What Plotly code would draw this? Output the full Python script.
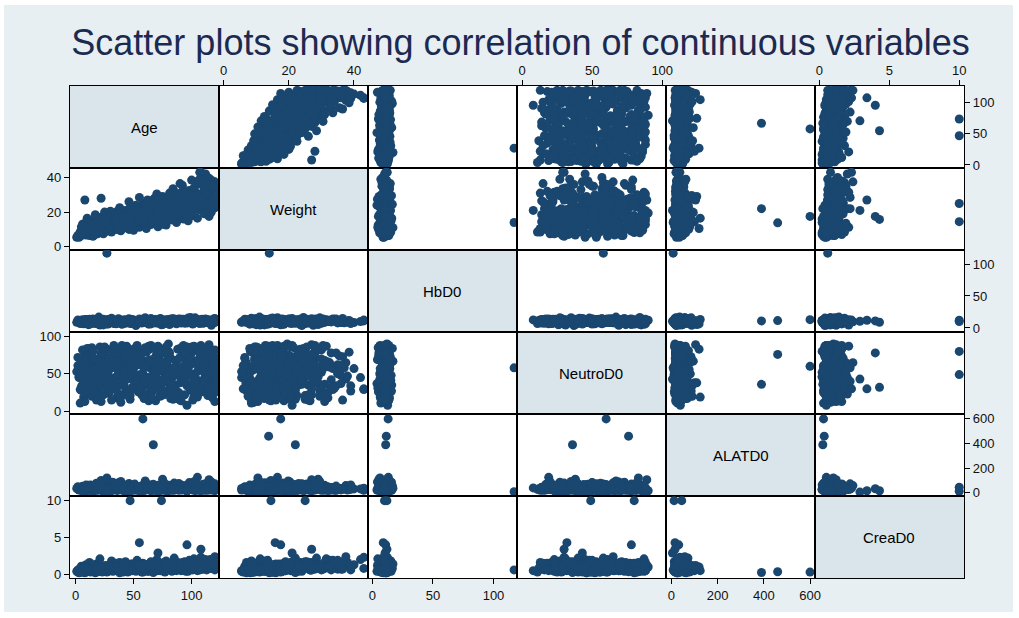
import plotly.graph_objects as go
from plotly.subplots import make_subplots

# ---- study variables (one entry per patient) ----
age = [
    3, 4, 5, 5, 6, 7, 7, 8, 9, 9,
    10, 11, 11, 12, 13, 14, 14, 15, 16, 17,
    18, 18, 19, 20, 21, 22, 23, 24, 24, 25,
    26, 27, 28, 29, 30, 31, 32, 33, 34, 35,
    36, 36, 37, 38, 39, 40, 41, 42, 43, 44,
    45, 46, 47, 48, 48, 49, 50, 51, 52, 53,
    54, 55, 56, 57, 58, 59, 60, 60, 61, 62,
    63, 64, 65, 66, 67, 68, 69, 70, 71, 72,
    72, 73, 74, 75, 76, 77, 78, 79, 80, 81,
    82, 83, 84, 84, 85, 86, 87, 88, 89, 90,
    91, 92, 93, 94, 95, 96, 96, 97, 98, 99,
    100, 101, 102, 103, 104, 105, 106, 107, 108, 108,
    109, 110, 111, 112, 113, 114, 115, 116, 117, 118,
    119, 120, 120, 120, 120, 120, 120, 119, 118, 117,
    6, 8, 10, 12, 15, 17, 20, 22, 25, 28,
    30, 33, 35, 38, 42, 46, 50, 55, 58, 62,
    66, 70, 74, 78, 82, 86, 90, 94, 98, 102,
    106, 110, 114, 118, 120, 4, 13, 19, 27, 40,
    52, 64, 76, 88, 100, 112, 120, 116, 96, 70,
    2, 5, 8, 11, 14, 16, 19, 21, 23, 26,
    29, 31, 34, 37, 39, 41, 44, 47, 49, 51,
    53, 56, 59, 61, 63, 65, 68, 71, 73, 75,
    77, 80, 83, 85, 87, 89, 92, 95, 97, 99,
    101, 103, 105, 107, 109, 111, 113, 115, 117, 119,
    120, 120, 118, 115, 110, 104, 93, 81, 69, 57,
    45, 33, 21, 9, 3, 7, 12, 18, 24, 30,
    36, 42, 48, 54, 60, 66, 72, 78, 84, 90,
    96, 102, 108, 114, 120, 1, 6, 15, 25, 35,
    15, 31, 43, 57, 67, 79, 91, 103, 113, 119,
    9, 20, 37, 50, 63, 74, 86, 99, 111, 120,
    4, 10, 16, 22, 28, 34, 40, 46, 52, 58,
    64, 70, 76, 82, 88, 94, 100, 106, 112, 118,
    120, 117, 111, 105, 99, 93, 87, 81, 75, 69,
    63, 57, 51, 45, 39, 33, 27, 21, 15, 9,
    2, 7, 13, 19, 25, 31, 37, 43, 49, 55,
    61, 67, 73, 79, 85, 91, 97, 103, 109, 115,
    120, 114, 108, 102, 96, 90, 84, 78, 72, 66,
    60, 54, 48, 42, 36, 30, 24, 18, 12, 6,
    11, 23, 35, 47, 59, 71, 83, 95, 107, 119,
    5, 17, 29, 41, 53, 65, 77, 89, 101, 113,
    27, 58, None, 67, 47, 74, 55, 96, 108, 71, 85, 8, 22, 107, 118,
]
weight = [
    5.5, 7.2, 9.5, 6.5, 11.0, 7.5, 12.5, 8.2, 10.5, 6.8,
    8.5, 13.5, 10.0, 7.0, 15.0, 10.5, 9.0, 12.0, 6.8, 14.0,
    10.2, 16.0, 8.0, 12.8, 11.2, 17.0, 9.0, 13.8, 7.5, 15.5,
    12.2, 9.0, 18.0, 11.0, 14.8, 8.5, 16.2, 12.4, 19.0, 10.0,
    13.5, 20.5, 10.8, 16.0, 9.2, 18.5, 14.5, 11.0, 21.0, 13.8,
    15.2, 10.0, 22.5, 17.0, 12.0, 19.0, 9.5, 16.2, 24.0, 13.5,
    18.0, 11.2, 21.0, 14.0, 25.0, 12.5, 19.8, 16.5, 10.5, 23.0,
    15.2, 26.5, 12.8, 20.0, 17.0, 28.0, 14.5, 22.0, 11.5, 18.5,
    24.5, 13.5, 19.0, 29.0, 16.0, 22.0, 12.5, 26.5, 19.5, 31.0,
    21.0, 15.5, 25.0, 33.5, 18.0, 27.5, 14.0, 23.5, 30.0, 17.5,
    20.5, 35.5, 16.0, 27.0, 24.0, 19.0, 29.5, 15.0, 32.5, 22.0,
    26.5, 18.0, 34.0, 23.0, 37.5, 16.5, 29.0, 21.5, 36.0, 43.0,
    25.0, 30.0, 19.0, 34.5, 22.5, 40.0, 17.5, 31.5, 27.5, 38.0,
    23.0, 26.0, 30.0, 33.5, 22.5, 36.5, 28.5, 35.0, 32.0, 20.0,
    13.0, 10.5, 16.5, 8.0, 12.5, 18.5, 11.0, 14.5, 20.0, 13.0,
    20.5, 15.0, 12.0, 22.5, 16.5, 26.0, 13.5, 28.5, 17.5, 27.0,
    23.5, 30.5, 17.5, 24.5, 28.5, 20.0, 36.5, 25.0, 20.5, 31.5,
    21.5, 37.0, 26.5, 24.5, 37.5, 8.5, 11.5, 7.5, 10.5, 17.5,
    19.0, 22.5, 26.0, 30.0, 38.5, 42.0, 34.0, 39.0, 21.0, 16.0,
    6.0, 11.5, 9.0, 14.5, 7.5, 12.0, 15.5, 9.5, 13.0, 16.5,
    11.5, 18.0, 13.5, 9.8, 20.0, 15.0, 11.5, 22.0, 14.0, 18.0,
    12.0, 21.5, 16.0, 24.5, 13.5, 19.0, 15.0, 27.0, 21.0, 13.0,
    18.5, 28.0, 16.5, 24.0, 31.0, 20.0, 26.0, 18.0, 30.0, 24.5,
    20.0, 32.0, 25.5, 39.0, 28.0, 21.0, 35.0, 27.0, 33.0, 30.5,
    25.0, 32.0, 36.0, 29.5, 24.0, 31.0, 33.0, 23.5, 19.5, 14.5,
    18.5, 16.0, 13.0, 12.0, 7.0, 10.0, 6.5, 11.0, 12.5, 14.0,
    16.5, 12.5, 19.5, 15.5, 23.5, 16.0, 22.0, 18.0, 27.0, 22.5,
    27.0, 24.0, 30.5, 25.5, 28.0, 5.5, 7.8, 9.5, 11.0, 17.0,
    6.0, 13.0, 17.5, 20.5, 23.0, 27.5, 21.5, 29.5, 36.0, 26.0,
    14.0, 9.5, 14.5, 13.0, 19.5, 17.0, 19.5, 22.5, 29.0, 31.0,
    7.0, 9.5, 13.0, 8.5, 14.0, 12.0, 16.5, 13.0, 17.5, 20.5,
    16.0, 19.5, 22.5, 18.0, 24.0, 21.0, 25.5, 30.0, 24.0, 27.5,
    29.0, 25.0, 33.0, 26.0, 22.5, 28.0, 20.0, 23.0, 17.5, 21.0,
    18.5, 14.5, 16.0, 12.5, 14.0, 13.0, 10.5, 11.5, 9.5, 8.0,
    6.5, 8.5, 11.5, 9.0, 10.0, 14.0, 12.0, 15.5, 13.0, 16.0,
    20.0, 18.0, 15.5, 21.5, 19.0, 26.5, 23.0, 27.0, 29.0, 32.5,
    27.0, 30.0, 23.5, 29.5, 26.0, 23.5, 19.0, 20.5, 23.0, 18.0,
    14.5, 16.5, 13.5, 17.0, 12.0, 11.5, 12.0, 10.0, 11.0, 9.0,
    9.5, 10.0, 15.0, 18.0, 15.0, 18.5, 20.0, 27.5, 25.0, 34.5,
    8.0, 7.5, 12.0, 13.5, 21.0, 14.5, 23.0, 19.5, 26.0, 30.0,
    14.0, 17.5, 13.8, 22.0, 14.5, 25.0, 15.8, 17.5, 27.0, 21.0, 22.0, 27.0, 28.0, 43.0, 35.0,
]
hb = [
    9.5, 10.2, 7.8, 11.5, 8.4, 12.1, 6.5, 10.8, 9.1, 13.2,
    8.0, 11.0, 5.2, 9.8, 12.6, 7.2, 10.5, 14.0, 8.8, 11.8,
    6.8, 10.0, 12.9, 9.3, 4.5, 11.2, 8.2, 13.5, 10.6, 7.6,
    9.9, 12.3, 6.1, 10.9, 8.6, 15.2, 11.4, 7.0, 9.6, 12.0,
    10.3, 8.1, 13.8, 9.0, 11.7, 5.8, 10.1, 12.8, 7.4, 9.4,
    11.1, 14.5, 8.5, 10.7, 6.9, 12.4, 9.7, 11.9, 3.8, 10.4,
    8.9, 12.2, 10.6, 7.7, 13.1, 9.2, 11.3, 16.0, 8.3, 10.0,
    12.7, 9.5, 6.4, 11.6, 10.2, 8.0, 13.4, 9.8, 11.0, 7.1,
    10.8, 12.5, 9.0, 5.5, 11.4, 10.3, 13.0, 8.7, 12.1, 9.6,
    7.9, 11.2, 10.5, 14.2, 9.1, 12.8, 6.6, 10.9, 11.7, 8.4,
    13.6, 9.3, 10.7, 7.5, 12.0, 11.1, 8.8, 15.5, 10.0, 9.7,
    11.9, 6.2, 12.6, 10.4, 9.0, 13.2, 8.1, 11.5, 10.8, 12.3,
    9.4, 7.3, 11.8, 13.9, 10.1, 8.6, 12.4, 9.9, 4.2, 11.0,
    10.6, 12.9, 8.9, 11.3, 9.8, 14.8, 10.5, 7.9, 12.2, 9.2,
    11.6, 8.3, 10.7, 6.0, 12.5, 9.5, 17.0, 10.2, 8.7, 13.0,
    9.9, 11.4, 7.6, 12.7, 10.3, 8.2, 11.9, 14.0, 9.0, 10.8,
    12.1, 9.6, 5.0, 11.2, 10.0, 13.6, 8.5, 11.7, 9.3, 12.9,
    10.4, 8.0, 12.3, 11.0, 9.7, 7.0, 13.3, 10.9, 6.3, 11.5,
    9.2, 12.0, 10.6, 8.6, 11.8, 10.1, 13.7, 9.4, 12.6, 7.8,
    10.1, 8.7, 12.4, 9.6, 11.3, 7.4, 13.1, 10.5, 6.7, 11.8,
    9.0, 12.2, 10.8, 14.6, 8.3, 11.5, 9.9, 7.2, 12.9, 10.3,
    11.7, 8.9, 13.5, 10.0, 6.0, 12.1, 9.4, 11.0, 15.0, 8.1,
    10.6, 12.8, 7.7, 11.3, 9.2, 13.9, 10.4, 8.5, 12.0, 16.5,
    9.8, 11.6, 13.0, 7.0, 10.9, 12.5, 8.8, 11.2, 9.5, 14.0,
    12.3, 10.2, 8.4, 11.9, 13.4, 9.1, 10.7, 5.4, 12.6, 11.0,
    8.6, 10.0, 12.7, 9.3, 11.4, 7.9, 13.6, 10.6, 4.8, 12.0,
    11.1, 9.7, 13.2, 8.2, 10.5, 12.4, 9.0, 11.8, 14.4, 10.2,
    7.6, 12.0, 10.3, 9.4, 11.6, 8.8, 13.0, 10.9, 12.2, 6.6,
    10.7, 13.3, 9.1, 11.5, 8.0, 12.6, 10.1, 15.8, 9.8, 11.2,
    12.9, 9.5, 11.0, 7.3, 10.8, 13.8, 8.9, 11.4, 10.0, 12.5,
    10.4, 8.8, 11.9, 9.6, 12.7, 7.5, 10.9, 13.3, 9.1, 11.4,
    8.4, 12.1, 10.2, 14.1, 9.5, 11.7, 7.8, 10.6, 12.8, 9.9,
    11.3, 6.9, 12.5, 10.0, 8.6, 13.6, 10.8, 9.3, 11.6, 12.2,
    9.7, 11.0, 7.1, 12.9, 10.5, 8.3, 11.8, 14.3, 9.0, 10.1,
    12.4, 9.4, 10.7, 6.5, 11.5, 13.1, 8.9, 10.3, 12.0, 9.8,
    10.9, 12.6, 8.2, 11.1, 9.6, 7.6, 12.3, 10.6, 13.8, 11.0,
    9.1, 10.8, 12.0, 8.7, 11.4, 13.5, 9.9, 7.4, 10.4, 12.7,
    11.7, 9.2, 13.0, 10.1, 8.0, 12.2, 10.7, 11.6, 6.2, 9.5,
    12.8, 10.5, 9.0, 11.9, 13.2, 8.5, 10.0, 12.4, 11.1, 9.7,
    8.9, 11.3, 12.6, 9.8, 10.6, 14.7, 11.5, 9.4, 10.2, 13.0,
    117.0, 13.0, 11.5, 11.0, 10.0, 12.0, 9.0, 11.0, 12.0, 10.5, 11.5, 10.0, 12.0, 11.0, 10.0,
]
neutro = [
    45, 62, 28, 71, 35, 54, 19, 80, 40, 66,
    23, 58, 74, 33, 49, 85, 27, 61, 38, 52,
    70, 15, 44, 63, 31, 78, 55, 22, 47, 68,
    36, 82, 50, 25, 59, 41, 73, 30, 64, 18,
    56, 34, 77, 46, 12, 69, 39, 60, 26, 87,
    43, 65, 21, 53, 75, 32, 57, 84, 37, 48,
    62, 29, 72, 40, 51, 17, 67, 35, 79, 45,
    24, 58, 88, 33, 47, 70, 14, 61, 42, 76,
    54, 20, 66, 38, 81, 49, 27, 63, 90, 36,
    71, 44, 16, 57, 30, 68, 52, 83, 25, 46,
    39, 74, 60, 22, 55, 86, 34, 48, 65, 28,
    50, 80, 31, 67, 43, 19, 59, 72, 37, 30,
    64, 26, 53, 78, 41, 57, 85, 23, 69, 47,
    35, 61, 82, 29, 56, 73, 40, 51, 18, 66,
    42, 13, 60, 84, 30, 52, 67, 38, 75, 24,
    57, 88, 33, 46, 70, 21, 62, 44, 80, 36,
    48, 63, 26, 77, 39, 55, 15, 71, 50, 87,
    32, 58, 74, 43, 65, 11, 54, 28, 83, 61,
    37, 69, 22, 52, 79, 45, 60, 34, 8, 76,
    61, 33, 78, 47, 20, 69, 54, 86, 39, 58,
    27, 72, 45, 63, 35, 81, 52, 16, 67, 41,
    75, 49, 24, 60, 87, 36, 56, 71, 28, 65,
    43, 80, 32, 55, 68, 19, 74, 46, 59, 84,
    38, 66, 53, 27, 77, 44, 62, 89, 31, 57,
    70, 25, 48, 83, 36, 64, 42, 78, 53, 22,
    51, 79, 37, 63, 46, 72, 29, 56, 85, 40,
    67, 34, 60, 48, 82, 26, 71, 43, 57, 38,
    76, 45, 88, 21, 62, 53, 35, 70, 44, 81,
    30, 58, 74, 42, 66, 50, 85, 27, 61, 47,
    55, 68, 23, 79, 40, 62, 33, 74, 52, 13,
    29, 84, 56, 13, 67, 44, 88, 20, 72, 38,
    83, 31, 58, 17, 69, 41, 86, 24, 53, 75,
    46, 21, 78, 35, 62, 88, 17, 52, 28, 73,
    14, 78, 38, 84, 19, 66, 32, 50, 80, 25,
    72, 39, 24, 57, 86, 15, 50, 74, 30, 63,
    40, 85, 22, 68, 50, 14, 77, 36, 83, 59,
    63, 32, 77, 20, 47, 72, 36, 86, 55, 18,
    85, 26, 69, 52, 79, 33, 61, 17, 43, 82,
    36, 65, 29, 72, 44, 87, 23, 53, 79, 34,
    51, 23, 69, 35, 88, 43, 81, 58, 15, 70,
    58, 60, 76, 36, 49, 80, 32, 78, 30, 43, 58, 55, 40, 29, 50,
]
alat = [
    22, 35, 18, 45, 28, 12, 40, 30, 55, 25,
    15, 33, 48, 20, 62, 27, 38, 14, 42, 24,
    31, 19, 52, 26, 37, 70, 21, 44, 16, 34,
    29, 58, 23, 41, 11, 36, 85, 25, 47, 32,
    18, 39, 27, 64, 30, 21, 50, 35, 13, 43,
    26, 75, 32, 19, 46, 28, 38, 57, 22, 34,
    41, 17, 29, 53, 24, 36, 95, 20, 31, 48,
    27, 40, 15, 33, 68, 22, 44, 30, 56, 19,
    35, 25, 49, 110, 28, 37, 21, 42, 16, 60,
    30, 45, 23, 38, 78, 26, 34, 52, 19, 40,
    24, 36, 58, 29, 47, 14, 33, 25, 43, 66,
    32, 21, 39, 27, 54, 125, 30, 44, 23, 37,
    48, 26, 35, 19, 62, 31, 40, 28, 88, 22,
    36, 51, 25, 42, 17, 33, 72, 29, 46, 24,
    38, 20, 57, 31, 45, 23, 36, 100, 27, 41,
    19, 34, 26, 50, 30, 65, 22, 39, 28, 44,
    33, 24, 47, 18, 37, 55, 29, 41, 82, 26,
    40, 30, 21, 35, 58, 27, 46, 32, 120, 23,
    28, 42, 36, 25, 53, 31, 20, 63, 39, 34,
    27, 44, 18, 60, 33, 22, 51, 38, 15, 70,
    36, 25, 48, 30, 92, 19, 41, 28, 57, 24,
    45, 31, 20, 66, 39, 26, 53, 17, 35, 80,
    29, 50, 23, 42, 34, 75, 21, 46, 31, 58,
    40, 18, 62, 27, 37, 52, 24, 105, 33, 44,
    23, 47, 35, 29, 68, 20, 43, 32, 55, 26,
    38, 21, 59, 34, 26, 45, 30, 77, 19, 41,
    32, 54, 24, 43, 28, 63, 36, 22, 49, 30,
    46, 27, 39, 71, 25, 35, 52, 20, 42, 33,
    25, 40, 30, 57, 21, 48, 34, 86, 27, 50,
    34, 23, 45, 31, 64, 26, 39, 28, 55, 37,
    31, 24, 50, 37, 20, 66, 28, 42, 35, 18,
    43, 29, 61, 22, 36, 48, 27, 39, 73, 25,
    35, 52, 21, 44, 30, 26, 58, 33, 19, 47,
    24, 38, 70, 29, 42, 33, 18, 55, 27, 62,
    49, 26, 34, 21, 45, 30, 80, 23, 37, 28,
    32, 57, 25, 40, 19, 35, 46, 29, 63, 22,
    41, 27, 36, 90, 24, 50, 31, 38, 26, 44,
    29, 45, 22, 34, 56, 25, 40, 68, 30, 20,
    37, 20, 48, 27, 33, 61, 23, 42, 30, 54,
    26, 39, 31, 47, 22, 36, 74, 28, 45, 33,
    8, 600, 460, 390, 12, 45, 16, 32, 16, 5, 30, 25, 35, 20, 30,
]
crea = [
    0.5, 0.8, 0.3, 1.1, 0.6, 0.4, 0.9, 0.2, 1.3, 0.7,
    0.4, 1.0, 0.6, 1.6, 0.3, 0.8, 0.5, 1.2, 0.9, 0.2,
    0.7, 1.4, 0.4, 0.6, 2.1, 0.9, 0.3, 1.1, 0.5, 0.8,
    1.2, 0.3, 0.7, 1.0, 0.5, 1.8, 0.4, 0.9, 0.6, 1.5,
    0.6, 0.9, 1.3, 0.2, 0.8, 0.5, 1.1, 0.4, 1.7, 0.7,
    0.3, 1.0, 0.6, 1.4, 0.9, 0.5, 1.2, 0.7, 0.4, 1.9,
    0.8, 0.5, 1.1, 0.3, 1.5, 0.7, 0.9, 1.3, 0.6, 0.4,
    1.0, 0.6, 1.6, 0.8, 0.4, 1.2, 0.7, 2.0, 0.5, 0.9,
    0.7, 1.3, 0.5, 0.9, 1.1, 0.3, 1.8, 0.6, 1.0, 0.8,
    1.4, 0.4, 0.8, 1.2, 0.6, 1.0, 0.5, 1.6, 0.9, 0.7,
    0.5, 1.1, 0.9, 0.6, 1.5, 0.8, 1.3, 0.4, 1.9, 1.0,
    0.9, 0.6, 1.2, 0.8, 1.7, 0.5, 1.0, 1.4, 0.7, 2.3,
    1.1, 0.7, 1.5, 0.9, 0.6, 1.3, 0.8, 2.0, 1.2, 1.6,
    0.8, 1.4, 0.6, 1.9, 1.0, 0.7, 2.2, 1.1, 0.9, 1.5,
    0.6, 0.9, 1.2, 0.4, 1.0, 0.7, 1.4, 0.5, 0.8, 1.1,
    1.3, 0.5, 0.9, 1.6, 0.6, 1.1, 0.8, 1.4, 0.7, 1.0,
    0.9, 1.2, 0.6, 1.5, 0.8, 1.3, 1.0, 1.7, 0.7, 2.1,
    1.2, 1.8, 0.8, 1.4, 2.4, 0.3, 0.9, 0.6, 1.0, 1.3,
    0.7, 1.1, 1.6, 0.9, 1.3, 2.0, 1.7, 1.2, 0.5, 0.8,
    0.3, 0.7, 1.0, 0.5, 1.3, 0.8, 0.4, 1.1, 0.6, 0.9,
    0.8, 1.2, 0.5, 1.5, 0.7, 0.3, 1.0, 0.6, 1.4, 0.9,
    1.1, 0.6, 0.9, 1.3, 0.4, 1.7, 0.8, 1.0, 0.5, 1.2,
    0.7, 1.5, 1.0, 0.6, 1.2, 0.9, 1.6, 0.4, 1.1, 0.8,
    1.3, 0.9, 1.7, 0.6, 1.0, 1.4, 0.7, 1.2, 1.8, 1.0,
    1.6, 1.1, 0.8, 1.3, 0.9, 1.5, 0.6, 1.2, 0.7, 1.0,
    0.5, 0.9, 0.4, 0.7, 0.2, 0.6, 1.0, 0.3, 0.8, 1.2,
    0.9, 0.5, 1.1, 0.7, 1.3, 0.8, 1.0, 1.4, 0.6, 1.2,
    1.0, 1.3, 0.7, 1.6, 1.1, 0.4, 0.8, 0.5, 0.9, 0.6,
    0.6, 1.0, 0.8, 1.2, 0.9, 1.4, 0.7, 1.1, 1.5, 1.3,
    0.4, 0.8, 1.1, 0.6, 1.0, 0.9, 1.3, 0.7, 1.2, 1.6,
    0.4, 0.9, 0.6, 1.2, 0.8, 1.0, 0.5, 1.3, 0.7, 1.1,
    0.9, 1.2, 0.7, 1.4, 1.0, 0.6, 1.5, 0.8, 1.1, 1.3,
    1.2, 0.8, 1.4, 0.9, 1.1, 0.7, 1.3, 1.0, 0.6, 0.9,
    1.1, 0.6, 0.9, 0.4, 1.2, 0.7, 1.0, 0.5, 0.8, 0.3,
    0.6, 0.4, 0.8, 1.0, 0.5, 1.1, 0.7, 1.3, 0.9, 0.6,
    1.0, 0.8, 1.3, 0.6, 1.1, 1.4, 0.9, 1.6, 1.0, 1.2,
    1.4, 1.0, 1.2, 0.8, 1.5, 0.9, 1.1, 0.7, 1.3, 0.8,
    0.7, 1.1, 0.5, 0.9, 0.6, 1.0, 0.4, 0.8, 0.6, 0.5,
    0.8, 0.5, 1.0, 0.7, 1.2, 0.9, 1.4, 1.1, 1.3, 1.7,
    0.3, 0.6, 0.9, 1.2, 0.7, 1.0, 1.3, 0.8, 1.5, 1.1,
    0.6, 0.3, 0.35, 0.25, 10.0, 10.0, 4.3, 4.0, 3.4, 2.9, 2.2, 0.8, 0.9, 0.8, 1.9,
]

var_names = ["Age", "Weight", "HbD0", "NeutroD0", "ALATD0", "CreaD0"]
tick_values = [
    [0, 50, 100],
    [0, 20, 40],
    [0, 50, 100],
    [0, 50, 100],
    [0, 200, 400, 600],
    [0, 5, 10],
]

# ---- axis scaling per variable (horizontal / vertical use) ----
x_ranges = [[-4.8, 123.6], [-1.44, 44.3], [-3.6, 119.4],
            [-3.6, 102.7], [-23, 621.5], [-0.31, 10.34]]
y_ranges = [[-4.9, 127], [-1.9, 45.5], [-6.3, 121.9],
            [-3.6, 105.9], [-26.8, 640], [-0.5, 10.63]]

columns = [age, weight, hb, neutro, alat, crea]
n = len(var_names)
assert all(len(col) == len(age) for col in columns)

MARKER = "rgb(26,71,111)"
OUTER_BG = "#e8eff2"
DIAG_BG = "#d9e5eb"
FONT = "Liberation Sans, Arial, sans-serif"

fig = make_subplots(rows=n, cols=n, horizontal_spacing=0, vertical_spacing=0)

for i in range(n):          # row -> y variable
    for j in range(n):      # column -> x variable
        r, c = i + 1, j + 1
        if i != j:
            fig.add_trace(go.Scatter(
                x=columns[j], y=columns[i], mode="markers",
                marker=dict(color=MARKER, size=9, line=dict(width=0)),
                hoverinfo="skip", showlegend=False,
            ), row=r, col=c)
        else:
            # invisible placeholder keeps the diagonal axes alive
            fig.add_trace(go.Scatter(x=[None], y=[None], mode="markers",
                                     hoverinfo="skip", showlegend=False),
                          row=r, col=c)

        # x axis of this cell
        xa = dict(range=x_ranges[j], showgrid=False, zeroline=False,
                  showline=True, mirror=True, linecolor="black", linewidth=1.3,
                  ticks="", showticklabels=False)
        if i == 0 and j % 2 == 1:
            xa.update(side="top", ticks="outside", ticklen=5, tickwidth=1,
                      tickcolor="black", tickvals=tick_values[j],
                      showticklabels=True)
        if i == n - 1 and j % 2 == 0:
            xa.update(side="bottom", ticks="outside", ticklen=5, tickwidth=1,
                      tickcolor="black", tickvals=tick_values[j],
                      showticklabels=True)
        fig.update_xaxes(xa, row=r, col=c)

        # y axis of this cell
        ya = dict(range=y_ranges[i], showgrid=False, zeroline=False,
                  showline=True, mirror=True, linecolor="black", linewidth=1.3,
                  ticks="", showticklabels=False)
        if j == 0 and i % 2 == 1:
            ya.update(side="left", ticks="outside", ticklen=5, tickwidth=1,
                      tickcolor="black", tickvals=tick_values[i],
                      showticklabels=True)
        if j == n - 1 and i % 2 == 0:
            ya.update(side="right", ticks="outside", ticklen=5, tickwidth=1,
                      tickcolor="black", tickvals=tick_values[i],
                      showticklabels=True)
        fig.update_yaxes(ya, row=r, col=c)

# diagonal cells: shaded box with the variable name
for i in range(n):
    k = i * n + i + 1
    suffix = "" if k == 1 else str(k)
    xd = fig.layout[f"xaxis{suffix}"].domain
    yd = fig.layout[f"yaxis{suffix}"].domain
    fig.add_shape(type="rect", xref="paper", yref="paper",
                  x0=xd[0], x1=xd[1], y0=yd[0], y1=yd[1],
                  fillcolor=DIAG_BG, line=dict(width=0), layer="below")
    fig.add_annotation(text=var_names[i], xref="paper", yref="paper",
                       x=(xd[0] + xd[1]) / 2, y=(yd[0] + yd[1]) / 2,
                       xanchor="center", yanchor="middle", showarrow=False,
                       font=dict(family=FONT, size=15, color="black"))

# thin white frame around the graph region
for x0, x1, y0, y1 in [(-0.2, -0.0738, -0.2, 1.3), (1.0548, 1.2, -0.2, 1.3),
                       (-0.2, 1.2, 1.1646, 1.3), (-0.2, 1.2, -0.2, -0.0691)]:
    fig.add_shape(type="rect", xref="paper", yref="paper",
                  x0=x0, x1=x1, y0=y0, y1=y1,
                  fillcolor="white", line=dict(width=0), layer="below")

fig.update_layout(
    width=1019, height=618,
    margin=dict(l=70, r=55, t=86, b=40),
    paper_bgcolor=OUTER_BG,
    plot_bgcolor="white",
    font=dict(family=FONT, size=13, color="#111111"),
    title=dict(text="Scatter plots showing correlation of continuous variables",
               x=0.504, xref="paper", xanchor="center",
               y=1 - 42 / 618, yref="container", yanchor="middle",
               font=dict(family=FONT, size=36, color="#1c2a52")),
    showlegend=False,
)

fig.write_html("out.html")
